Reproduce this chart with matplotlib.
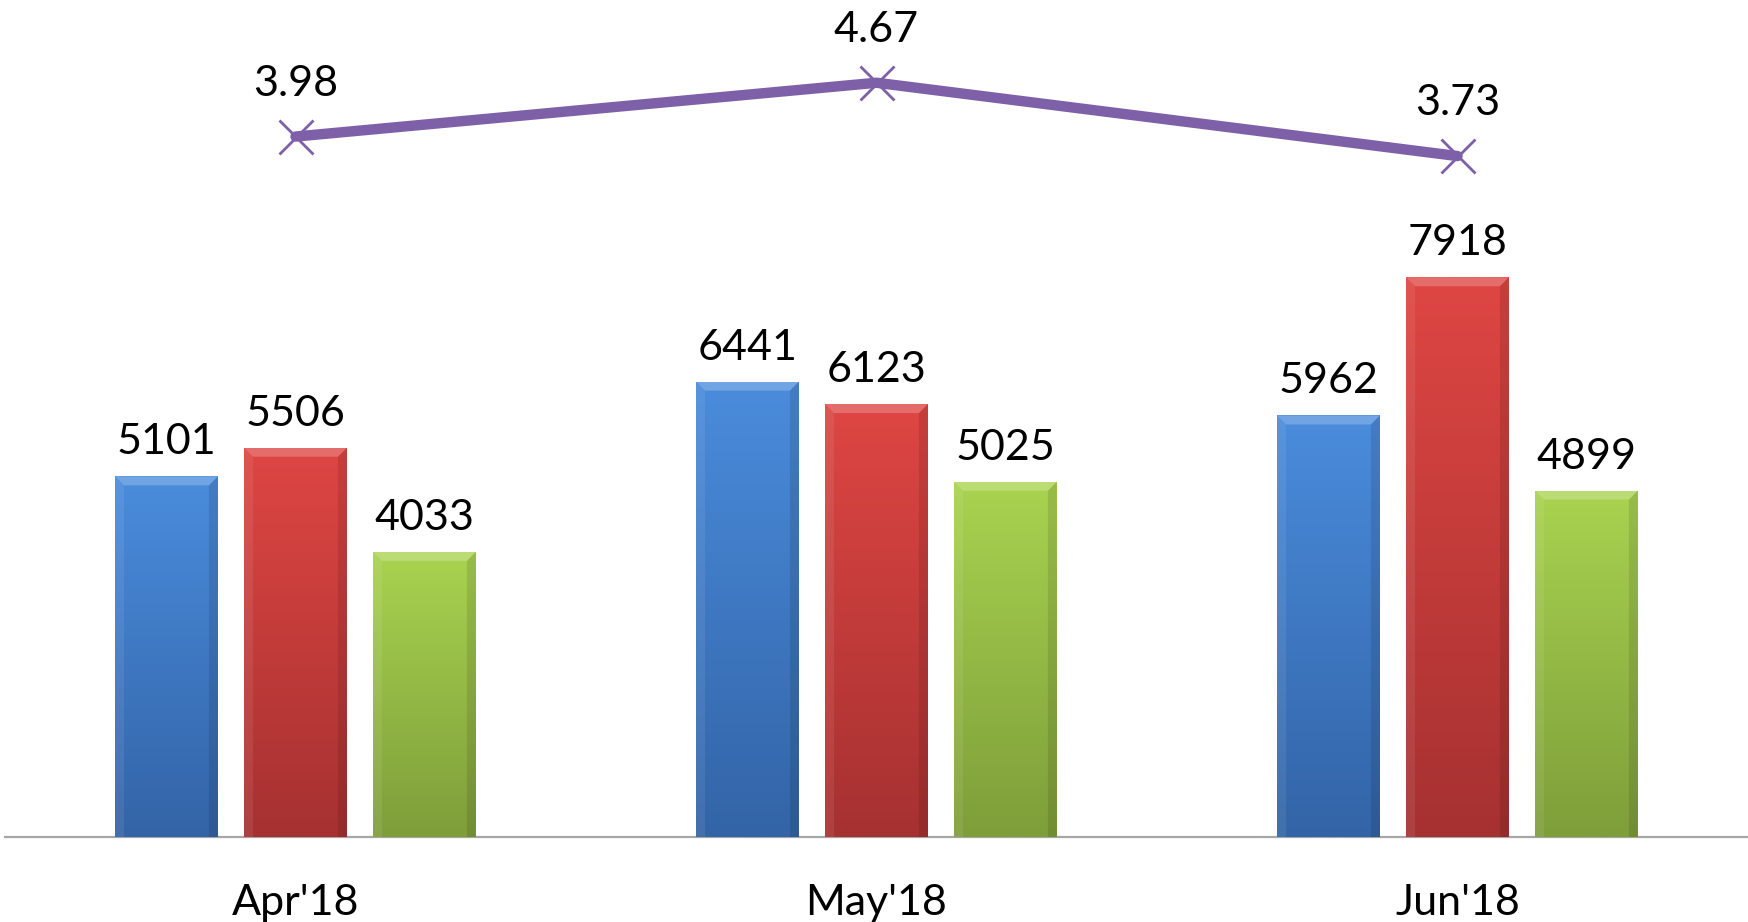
import numpy as np
import matplotlib
matplotlib.use("Agg")
import matplotlib.pyplot as plt
from matplotlib.colors import LinearSegmentedColormap
from matplotlib.patches import Polygon

months = ["Apr'18", "May'18", "Jun'18"]
series_a = [5101, 6441, 5962]
series_b = [5506, 6123, 7918]
series_c = [4033, 5025, 4899]
ratio = [3.98, 4.67, 3.73]

W, H = 1748, 922
DPI = 100
fig = plt.figure(figsize=(W / DPI, H / DPI), dpi=DPI)
fig.patch.set_facecolor("white")

ax_bottom = (H - 837) / H
ax_top = (H - 57) / H
ax = fig.add_axes([5 / W, ax_bottom, 1 - 5 / W, ax_top - ax_bottom])
ax.set_xlim(-0.5, 2.5)
ax.set_ylim(0, 780 / 0.0707)
for s in ax.spines.values():
    s.set_visible(False)
ax.set_xticks([])
ax.set_yticks([])
ax.axhline(0, color="#A6A6A6", lw=1.6, zorder=1, clip_on=False)

FONT = ["Lato", "DejaVu Sans"]
FS = 31

series = [series_a, series_b, series_c]
grads = [("#4A8CDC", "#3364A7"), ("#DE4643", "#A63131"), ("#A9D350", "#7E9E3A")]
offsets = [-0.222, 0.0, 0.222]
bw = 0.177
x = np.arange(len(months))

ymax = ax.get_ylim()[1]
px_x = (W - 5) / 3.0  # pixels per x unit
px_y = 780 / ymax      # pixels per y unit

for vals, (ctop, cbot), off in zip(series, grads, offsets):
    cmap = LinearSegmentedColormap.from_list("g", [cbot, ctop])
    bars = ax.bar(x + off, vals, bw, color=ctop, zorder=2, linewidth=0)
    for b, v in zip(bars, vals):
        x0 = b.get_x()
        x1 = x0 + b.get_width()
        grad = np.linspace(0, 1, 256).reshape(-1, 1)
        im = ax.imshow(grad, cmap=cmap, origin="lower", aspect="auto",
                       extent=[x0, x1, 0, v], zorder=3)
        im.set_clip_path(b)
        dx = 9 / px_x
        dy = 9 / px_y
        top = Polygon([[x0, v], [x1, v], [x1 - dx, v - dy], [x0 + dx, v - dy]],
                      closed=True, facecolor="white", alpha=0.22, lw=0, zorder=4)
        ax.add_patch(top)
        left = Polygon([[x0, v], [x0 + dx, v - dy], [x0 + dx, 0], [x0, 0]],
                       closed=True, facecolor="white", alpha=0.08, lw=0, zorder=4)
        ax.add_patch(left)
        right = Polygon([[x1, v], [x1 - dx, v - dy], [x1 - dx, 0], [x1, 0]],
                        closed=True, facecolor="black", alpha=0.10, lw=0, zorder=4)
        ax.add_patch(right)
        ax.text(x0 + b.get_width() / 2, v + 22 / px_y, f"{v}", ha="center",
                va="baseline", fontsize=FS, family=FONT, color="black", zorder=5)

ax2 = ax.twinx()
ax2.set_ylim(-5, 5)
for s in ax2.spines.values():
    s.set_visible(False)
ax2.set_yticks([])
ax2.plot(x, ratio, color="#7E60A8", lw=7.5, solid_capstyle="round", zorder=6)
ax2.plot(x, ratio, linestyle="none", marker="x", markersize=24, mew=2,
         color="#7E60A8", zorder=7)
px_y2 = 780 / 10.0
for xi, r in zip(x, ratio):
    ax2.text(xi, r + 41 / px_y2, f"{r:.2f}", ha="center", va="baseline",
             fontsize=FS, family=FONT, color="black", zorder=8)

for xi, m in zip(x, months):
    ax.text(xi, -66 / px_y, m, ha="center", va="center", fontsize=FS,
            family=FONT, color="black", clip_on=False)

fig.savefig("out.png", dpi=DPI, facecolor="white")
